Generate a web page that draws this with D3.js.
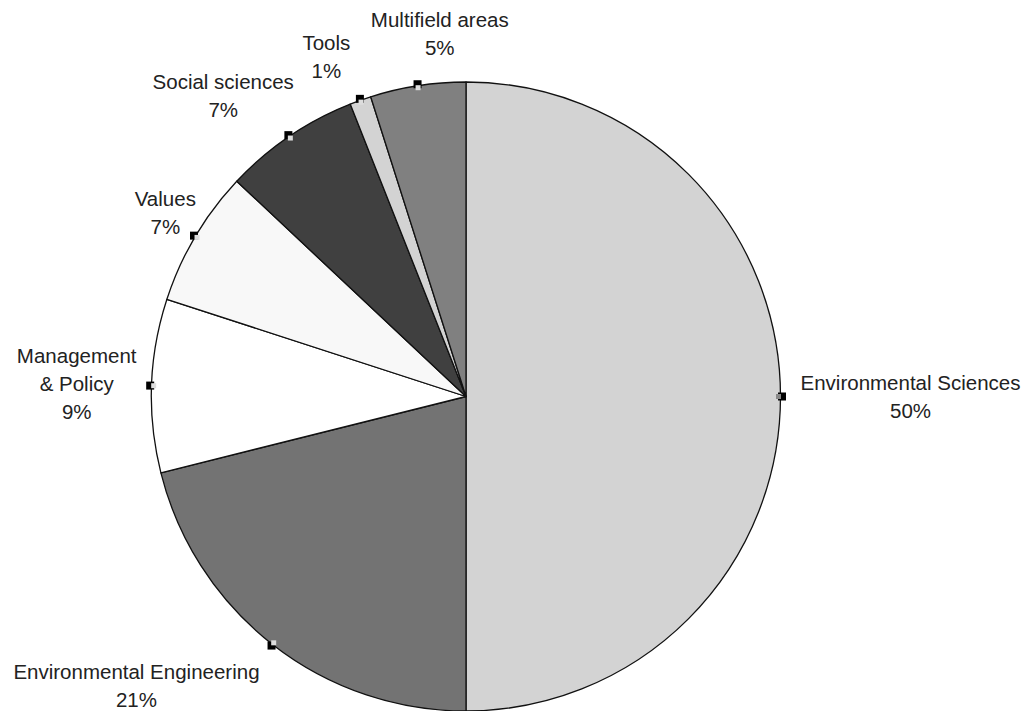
<!DOCTYPE html>
<html>
<head>
<meta charset="utf-8">
<script src="https://cdn.jsdelivr.net/npm/d3@7"></script>
<style>
  body { margin: 0; background: #fff; }
  svg text { font-family: "Liberation Sans", Arial, sans-serif; font-size: 20.5px; fill: #222; }
</style>
</head>
<body>
<div id="chart"></div>
<script>
// slice data, clockwise from 12 o'clock
const categories = ['Environmental Sciences', 'Environmental Engineering', 'Management & Policy',
    'Values', 'Social sciences', 'Tools', 'Multifield areas'];
const labelLines = [['Environmental Sciences'], ['Environmental Engineering'], ['Management', '& Policy'],
    ['Values'], ['Social sciences'], ['Tools'], ['Multifield areas']];
const shares = [50, 21.1, 8.9, 7.0, 7.0, 1.1, 4.9];
const percentLabels = ['50%', '21%', '9%', '7%', '7%', '1%', '5%'];

// layout only
const colors = ['#d3d3d3', '#737373', '#ffffff', '#f8f8f8', '#404040', '#d3d3d3', '#808080'];
const labelOffsets = [[130, -7], [-136, 35], [-75, -23], [-30, -30], [-66, -47], [-34, -50], [22, -59]];

const width = 1028;
const height = 711;
const cx = 466;
const cy = 396.5;
const radius = 314.5;
const lineHeight = 28;

const svg = d3.select('#chart')
    .append('svg')
    .attr('width', width)
    .attr('height', height);

const pie = d3.pie().sort(null).value((d) => d.value);
const arcs = pie(categories.map((c, i) => ({ name: c, value: shares[i], i })));

const arc = d3.arc().innerRadius(0).outerRadius(radius);

const g = svg.append('g').attr('transform', `translate(${cx}, ${cy})`);

g.selectAll('path')
    .data(arcs)
    .join('path')
    .attr('d', arc)
    .attr('fill', (d) => colors[d.data.i])
    .attr('stroke', '#111')
    .attr('stroke-width', 1.3)
    .attr('stroke-linejoin', 'round');

// little markers on the rim at each slice mid angle
const midPoint = (d) => {
    const a = (d.startAngle + d.endAngle) / 2;
    return [Math.sin(a) * radius, -Math.cos(a) * radius, a];
};

const markers = g.append('g').attr('class', 'markers');
arcs.forEach((d) => {
    const [x, y, a] = midPoint(d);
    const ux = Math.sin(a), uy = -Math.cos(a);
    markers.append('rect')
        .attr('x', x + ux * 1.5 - 4)
        .attr('y', y + uy * 1.5 - 4)
        .attr('width', 8)
        .attr('height', 8)
        .attr('fill', '#000');
    markers.append('rect')
        .attr('x', x - ux * 2 - 2.5)
        .attr('y', y - uy * 2 - 2.5)
        .attr('width', 5)
        .attr('height', 5)
        .attr('fill', d.data.i === 0 ? '#888' : '#ddd');
});

// labels
const labels = g.append('g').attr('class', 'labels');
arcs.forEach((d) => {
    const [x, y] = midPoint(d);
    const [dx, dy] = labelOffsets[d.data.i];
    const lines = labelLines[d.data.i].concat([percentLabels[d.data.i]]);
    const t = labels.append('text')
        .attr('text-anchor', 'middle')
        .attr('x', x + dx)
        .attr('y', y + dy);
    lines.forEach((line, k) => {
        t.append('tspan')
            .attr('x', x + dx)
            .attr('dy', k === 0 ? 0 : lineHeight)
            .text(line);
    });
});
</script>
</body>
</html>
